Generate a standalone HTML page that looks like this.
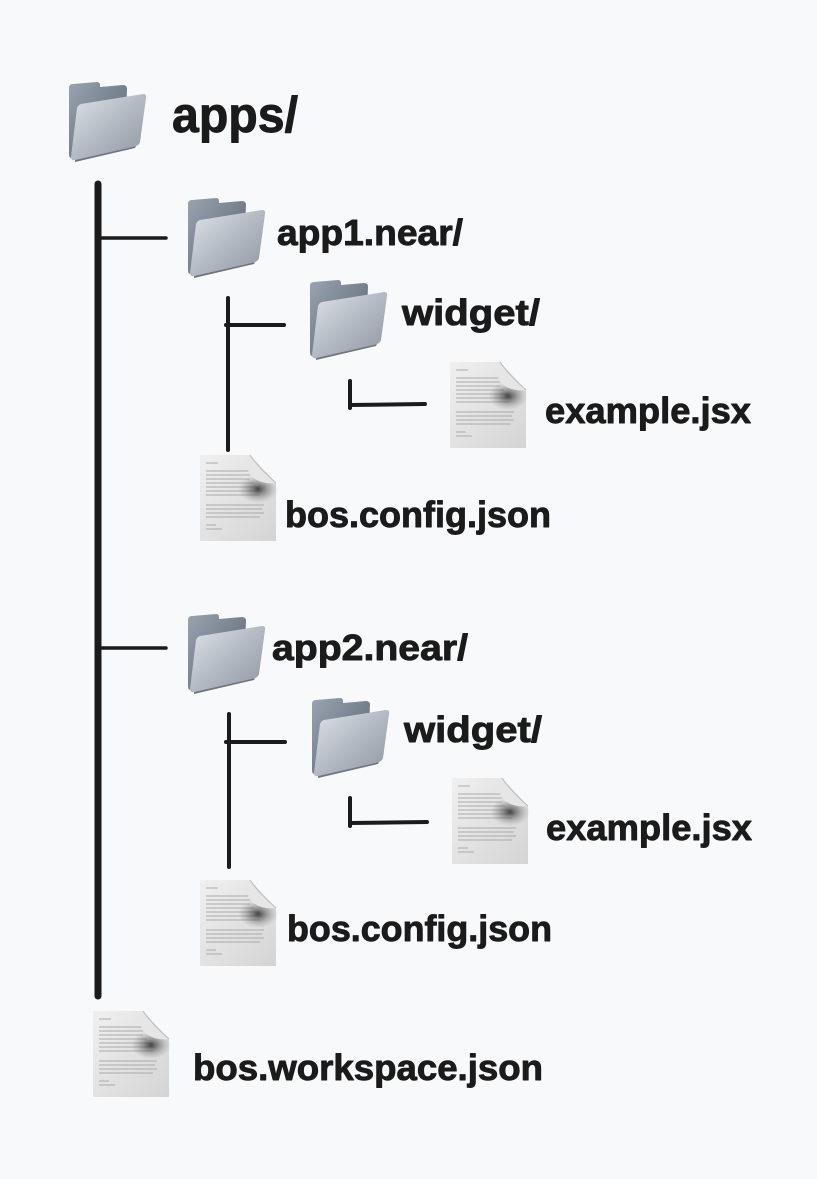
<!DOCTYPE html>
<html><head><meta charset="utf-8"><style>
html,body{margin:0;padding:0;background:#f8f9fb;}
svg{display:block}
text{font-family:"Liberation Sans",sans-serif;font-weight:bold;fill:#1b1b1b;stroke:#1b1b1b;stroke-width:0.9;stroke-linejoin:round}
</style></head><body>
<svg width="817" height="1179" viewBox="0 0 817 1179" xmlns="http://www.w3.org/2000/svg">
<defs>
<linearGradient id="fb" x1="0" y1="0" x2="1" y2="1"><stop offset="0" stop-color="#9aa4b0"/><stop offset="1" stop-color="#56606c"/></linearGradient>
<linearGradient id="ff" x1="0" y1="0" x2="1" y2="1"><stop offset="0" stop-color="#dfe3e8"/><stop offset="0.5" stop-color="#b3bac3"/><stop offset="1" stop-color="#8e96a0"/></linearGradient>
<linearGradient id="dg" x1="0" y1="0" x2="1" y2="1"><stop offset="0" stop-color="#f0f0f0"/><stop offset="1" stop-color="#d4d4d4"/></linearGradient>
<radialGradient id="cs" cx="0.5" cy="0.5" r="0.5"><stop offset="0" stop-color="#333" stop-opacity="0.9"/><stop offset="1" stop-color="#888" stop-opacity="0"/></radialGradient>
<g id="folder">
<path d="M2 6 Q2 2 6 2 L30 0 Q33 0 33 3 L33 5 L56 3 Q60 3 60 7 L58 60 L6 76 Q2 77 2 72 Z" fill="url(#fb)"/>
<path d="M14 22 L76 12 Q80 12 79 16 L73 60 Q72 63 69 64 L8 78 Q4 79 4 75 L10 26 Q11 23 14 22 Z" fill="url(#ff)"/>
<path d="M8 78 L69 64 L68 66 L8 80 Z" fill="#6d7682"/>
</g>
<g id="doc">
<path d="M0 0 L50 0 L76 28 L76 86 L0 86 Z" fill="url(#dg)"/>
<g stroke="#aaa" stroke-width="1">
<line x1="6" y1="8" x2="18" y2="8"/>
<line x1="6" y1="16" x2="50" y2="16"/><line x1="6" y1="20" x2="52" y2="20"/><line x1="6" y1="24" x2="50" y2="24"/><line x1="6" y1="28" x2="54" y2="28"/><line x1="6" y1="32" x2="60" y2="32"/><line x1="6" y1="36" x2="62" y2="36"/><line x1="6" y1="40" x2="60" y2="40"/>
<line x1="6" y1="50" x2="64" y2="50"/><line x1="6" y1="54" x2="62" y2="54"/><line x1="6" y1="58" x2="64" y2="58"/><line x1="6" y1="62" x2="60" y2="62"/>
<line x1="6" y1="70" x2="16" y2="70"/><line x1="6" y1="74" x2="22" y2="74"/>
</g>
<ellipse cx="58" cy="34" rx="20" ry="14" fill="url(#cs)"/>
<path d="M50 0 Q44 8 50 20 Q60 30 76 28 Z" fill="#e6e6e6"/>
<path d="M50 0 Q58 12 76 28" fill="none" stroke="#bbb" stroke-width="1"/>
</g>
</defs>

<g stroke="#1b1b1b" stroke-linecap="round" fill="none">
<line x1="98" y1="184" x2="98" y2="996" stroke-width="7"/>
<line x1="98" y1="238" x2="166" y2="238" stroke-width="3.5"/>
<line x1="98" y1="648" x2="166" y2="648" stroke-width="3.5"/>
<line x1="228" y1="298" x2="228" y2="450" stroke-width="4"/>
<line x1="226" y1="325" x2="284" y2="325" stroke-width="4"/>
<line x1="229" y1="714" x2="229" y2="867" stroke-width="4"/>
<line x1="226" y1="742" x2="285" y2="742" stroke-width="4"/>
<line x1="350" y1="381" x2="350" y2="408" stroke-width="4"/>
<line x1="350" y1="405" x2="425" y2="404" stroke-width="4"/>
<line x1="350" y1="798" x2="350" y2="826" stroke-width="4"/>
<line x1="350" y1="823" x2="427" y2="822" stroke-width="4"/>
</g>

<use href="#folder" x="67" y="82"/>
<use href="#folder" x="186" y="198"/>
<use href="#folder" x="308" y="280"/>
<use href="#folder" x="186" y="614"/>
<use href="#folder" x="310" y="698"/>

<use href="#doc" x="450" y="362"/>
<use href="#doc" x="200" y="455"/>
<use href="#doc" x="452" y="778"/>
<use href="#doc" x="200" y="880"/>
<use href="#doc" x="93" y="1011"/>

<text x="172" y="132" font-size="50" textLength="126" lengthAdjust="spacingAndGlyphs">apps/</text>
<text x="277" y="245" font-size="36" textLength="186" lengthAdjust="spacingAndGlyphs">app1.near/</text>
<text x="402" y="325" font-size="36" textLength="138" lengthAdjust="spacingAndGlyphs">widget/</text>
<text x="545" y="423" font-size="36" textLength="206" lengthAdjust="spacingAndGlyphs">example.jsx</text>
<text x="285" y="527" font-size="36" textLength="266" lengthAdjust="spacingAndGlyphs">bos.config.json</text>
<text x="272" y="660" font-size="36" textLength="196" lengthAdjust="spacingAndGlyphs">app2.near/</text>
<text x="404" y="742" font-size="36" textLength="138" lengthAdjust="spacingAndGlyphs">widget/</text>
<text x="546" y="840" font-size="36" textLength="206" lengthAdjust="spacingAndGlyphs">example.jsx</text>
<text x="287" y="941" font-size="36" textLength="265" lengthAdjust="spacingAndGlyphs">bos.config.json</text>
<text x="193" y="1080" font-size="36" textLength="350" lengthAdjust="spacingAndGlyphs">bos.workspace.json</text>
</svg>
</body></html>
